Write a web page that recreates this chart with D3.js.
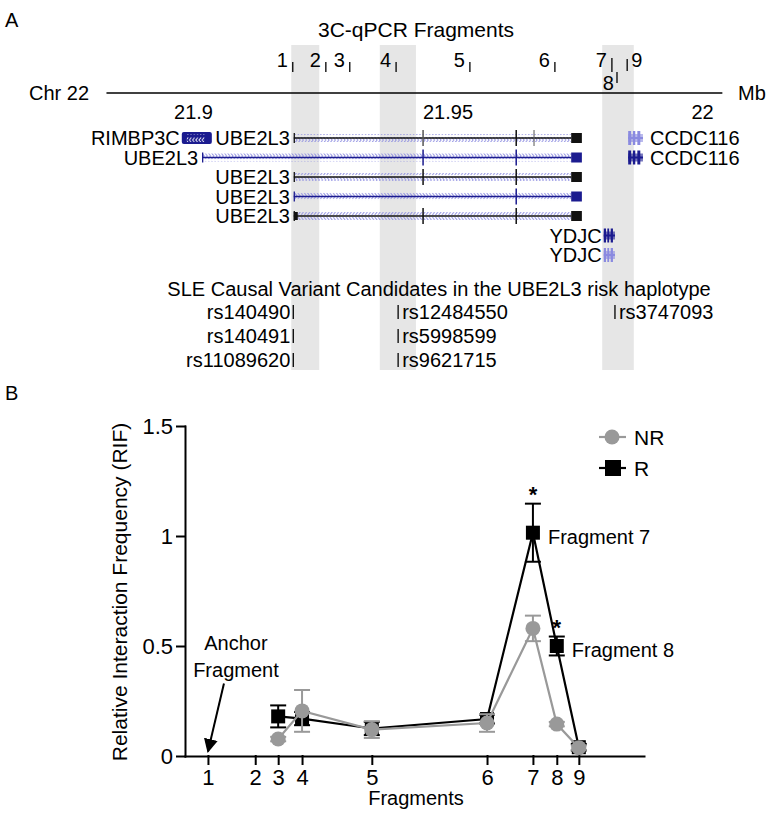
<!DOCTYPE html>
<html><head><meta charset="utf-8">
<script src="https://cdn.jsdelivr.net/npm/d3@7"></script>
<style>body{margin:0;background:#fff} svg{display:block;font-family:"Liberation Sans",Arial,Helvetica,sans-serif}</style>
</head><body><svg id="c" width="768" height="819"></svg>
<script>
// ---------- Panel A data ----------
const chrTicks=[21.9,21.95,22];
const chrTickLabels=["21.9","21.95","22"];
const chrExtent=[21.883,22.004];
const fragLabels=["1","2","3","4","5","6","7","8","9"];
const fragMb=[21.9196,21.9261,21.9308,21.9399,21.9544,21.9711,21.9823,21.9833,21.9853];
const bandStart=[21.9193,21.9367,21.9804];
const bandEnd=[21.9248,21.9438,21.9866];
const txNames=["UBE2L3","UBE2L3","UBE2L3","UBE2L3","UBE2L3"];
const txStart=[21.9198,21.9018,21.9198,21.9198,21.9198];
const txEnd=[21.9764,21.9764,21.9764,21.9764,21.9764];
const txUtrStart=[21.9743,21.9743,21.9743,21.9743,21.9743];
const txTone=["k","b","k","b","k"];
const txExons=[[21.9452,21.9635,21.9670],[21.9452,21.9635],[21.9452,21.9635],[21.9635],[21.9452,21.9635]];
const otherGenes=["RIMBP3C","CCDC116","CCDC116","YDJC","YDJC"];
const otherStart=[21.8978,21.9855,21.9855,21.9807,21.9807];
const otherEnd=[21.9037,21.9884,21.9884,21.9829,21.9829];
const otherRow=[0,0,1,5,6];
const otherTone=["b","l","b","b","l"];
const snpIds=["rs140490","rs140491","rs11089620","rs12484550","rs5998599","rs9621715","rs3747093"];
const snpMb=[21.9197,21.9197,21.9197,21.9403,21.9403,21.9403,21.9829];
const snpRow=[0,1,2,0,1,2,0];
// ---------- Panel B data ----------
const fragPos=[5,15.3,20.3,25.5,40.7,65.8,75.8,81.0,85.8];
const dataFrag=["3","4","5","6","7","8","9"];
const nrMean=[0.077,0.205,0.12,0.15,0.58,0.145,0.038];
const nrErr=[0.01,0.095,0.038,0.04,0.058,0.01,0.01];
const rMean=[0.18,0.17,0.125,0.168,1.015,0.50,0.04];
const rErr=[0.05,0.03,0.03,0.02,0.132,0.043,0.015];
const sigFrag=["7","8"];
const yTicks=[0,0.5,1,1.5];
const seriesNames=["NR","R"];

const svg=d3.select("#c");
const FONT='"Liberation Sans",Arial,Helvetica,sans-serif';
const NAVY="#1b1b8f", LAV="#8a8ae0", GRAY="#999999";

// ================= PANEL A =================
const xA=d3.scaleLinear().domain([21.9,22]).range([193,702]);
const rowY=d3.scaleLinear().domain([0,6]).range([138,255]);
const snpY=d3.scaleLinear().domain([0,2]).range([319,367]);

svg.append("text").attr("x",5).attr("y",27).attr("font-size",20).text("A");

// gray bands
svg.append("g").selectAll("rect").data(bandStart).join("rect")
  .attr("x",d=>xA(d)).attr("width",(d,i)=>xA(bandEnd[i])-xA(d))
  .attr("y",45).attr("height",325).attr("fill","#e6e6e6");

svg.append("text").attr("x",416).attr("y",37).attr("text-anchor","middle").attr("font-size",21).text("3C-qPCR Fragments");

// fragment ticks
const fg=svg.append("g");
fragMb.forEach((m,i)=>{
  const x=xA(m), lab=fragLabels[i];
  if(lab==="8"){
    fg.append("line").attr("x1",x).attr("x2",x).attr("y1",72).attr("y2",83).attr("stroke","#000").attr("stroke-width",1.3);
    fg.append("text").attr("x",x-3).attr("y",90).attr("text-anchor","end").attr("font-size",20).text(lab);
  } else if(lab==="9"){
    fg.append("line").attr("x1",x).attr("x2",x).attr("y1",59).attr("y2",71).attr("stroke","#000").attr("stroke-width",1.3);
    fg.append("text").attr("x",x+4).attr("y",67).attr("font-size",20).text(lab);
  } else {
    const top=lab==="7"?58:62;
    fg.append("line").attr("x1",x).attr("x2",x).attr("y1",top).attr("y2",72).attr("stroke","#000").attr("stroke-width",1.3);
    fg.append("text").attr("x",x-5).attr("y",67).attr("text-anchor","end").attr("font-size",20).text(lab);
  }
});

// chromosome line + axis labels
svg.append("line").attr("x1",xA(chrExtent[0])).attr("x2",xA(chrExtent[1])).attr("y1",93).attr("y2",93).attr("stroke","#000").attr("stroke-width",1.5);
svg.append("text").attr("x",89).attr("y",100).attr("text-anchor","end").attr("font-size",20).text("Chr 22");
svg.append("text").attr("x",738).attr("y",100).attr("font-size",20).text("Mb");
const ax=svg.append("g").attr("transform","translate(0,99)")
  .call(d3.axisBottom(xA).tickValues(chrTicks).tickFormat((d,i)=>chrTickLabels[i]).tickSize(0).tickPadding(2));
ax.select(".domain").remove();
ax.selectAll("text").attr("font-size",20).attr("font-family",FONT).attr("fill","#000").attr("dy","0.9em");

// chevron pattern
const defs=svg.append("defs");
defs.append("pattern").attr("id","chev").attr("patternUnits","userSpaceOnUse").attr("width",3.2).attr("height",8)
  .append("path").attr("d","M0.4,1 L2.6,4 L0.4,7").attr("fill","none").attr("stroke",LAV).attr("stroke-width",0.9);
defs.append("pattern").attr("id","chevL").attr("patternUnits","userSpaceOnUse").attr("width",3.2).attr("height",8)
  .append("path").attr("d","M2.6,1.5 L0.6,4 L2.6,6.5").attr("fill","none").attr("stroke","#fff").attr("stroke-width",0.9);

// transcripts
const tg=svg.append("g");
txNames.forEach((nm,i)=>{
  const y=rowY(i), col=txTone[i]==="b"?NAVY:"#111";
  const x0=xA(txStart[i]), xu=xA(txUtrStart[i]), x1=xA(txEnd[i]);
  tg.append("rect").attr("x",x0).attr("y",y-4).attr("width",xu-x0).attr("height",8).attr("fill","url(#chev)");
  tg.append("line").attr("x1",x0).attr("x2",xu).attr("y1",y).attr("y2",y).attr("stroke",col).attr("stroke-width",1.3);
  tg.append("line").attr("x1",x0+0.5).attr("x2",x0+0.5).attr("y1",y-5).attr("y2",y+5).attr("stroke",col).attr("stroke-width",1.3);
  if(i===4) tg.append("rect").attr("x",x0).attr("y",y-4).attr("width",4).attr("height",8).attr("fill","#111");
  txExons[i].forEach((e,k)=>{
    tg.append("line").attr("x1",xA(e)).attr("x2",xA(e)).attr("y1",y-8).attr("y2",y+8)
      .attr("stroke",(i===0&&k!==1)?"#555":col).attr("stroke-width",(i===0&&k===2)?1:1.5);
  });
  tg.append("rect").attr("x",xu).attr("y",y-5).attr("width",x1-xu).attr("height",10).attr("fill",col);
  tg.append("text").attr("x",x0-4).attr("y",y+7).attr("text-anchor","end").attr("font-size",20).text(nm);
});

// other genes
otherGenes.forEach((nm,i)=>{
  const y=rowY(otherRow[i]);
  const col=otherTone[i]==="b"?NAVY:LAV;
  const x0=xA(otherStart[i]), x1=xA(otherEnd[i]);
  if(nm==="RIMBP3C"){
    tg.append("rect").attr("x",x0).attr("y",y-6).attr("width",x1-x0).attr("height",12).attr("rx",2).attr("fill",col);
    tg.append("rect").attr("x",x0+5).attr("y",y-4).attr("width",x1-x0-12).attr("height",8).attr("fill","url(#chevL)");
    tg.append("text").attr("x",x0-2).attr("y",y+7).attr("text-anchor","end").attr("font-size",20).text(nm);
  } else {
    tg.append("line").attr("x1",x0).attr("x2",x1).attr("y1",y).attr("y2",y).attr("stroke",col).attr("stroke-width",2);
    const w=x1-x0;
    [0,0.32,0.62].forEach(f=>{
      tg.append("rect").attr("x",x0+f*w).attr("y",y-7).attr("width",f===0.32?w*0.16:w*0.2).attr("height",14).attr("fill",col);
    });
    tg.append("rect").attr("x",x0).attr("y",y-4).attr("width",w).attr("height",8).attr("fill",col).attr("opacity",0.6);
    if(nm==="CCDC116") tg.append("text").attr("x",x1+7).attr("y",y+7).attr("font-size",20).text(nm);
    else tg.append("text").attr("x",x0-2).attr("y",y+7).attr("text-anchor","end").attr("font-size",20).text(nm);
  }
});

// SNPs
svg.append("text").attr("x",439).attr("y",296).attr("text-anchor","middle").attr("font-size",20)
  .text("SLE Causal Variant Candidates in the UBE2L3 risk haplotype");
snpIds.forEach((id,i)=>{
  const x=xA(snpMb[i]), yb=snpY(snpRow[i]);
  svg.append("line").attr("x1",x).attr("x2",x).attr("y1",yb-14).attr("y2",yb).attr("stroke","#000").attr("stroke-width",1.3);
  const left=snpMb[i]<21.93;
  svg.append("text").attr("x",left?x-3:x+4).attr("y",yb).attr("text-anchor",left?"end":"start").attr("font-size",20).text(id);
});

// ================= PANEL B =================
svg.append("text").attr("x",5).attr("y",400).attr("font-size",20).text("B");
const xB=d3.scaleLinear().domain([0,100]).range([185,644]);
const yB=d3.scaleLinear().domain([0,1.5]).range([756,426]);
const posOf=f=>fragPos[fragLabels.indexOf(f)];

const gy=svg.append("g").attr("transform","translate(185,0)")
  .call(d3.axisLeft(yB).tickValues(yTicks).tickFormat(d=>String(d)).tickSize(8).tickSizeOuter(0).tickPadding(4));
const gx=svg.append("g").attr("transform","translate(0,756)")
  .call(d3.axisBottom(xB).tickValues(fragPos).tickFormat((d,i)=>fragLabels[i]).tickSize(8).tickSizeOuter(0).tickPadding(5));
[gx,gy].forEach(g=>{
  g.attr("font-family",FONT).attr("font-size",22);
  g.selectAll("path,line").attr("stroke","#000").attr("stroke-width",2).attr("stroke-linecap","square");
  g.selectAll("text").attr("fill","#000");
});
svg.append("text").attr("x",416).attr("y",805).attr("text-anchor","middle").attr("font-size",20).text("Fragments");
svg.append("text").attr("transform","translate(127,592) rotate(-90)").attr("text-anchor","middle").attr("font-size",21)
  .text("Relative Interaction Frequency (RIF)");

// anchor annotation
const ax1=xB(posOf("1"));
defs.append("marker").attr("id","arr").attr("viewBox","0 0 10 10").attr("refX",9).attr("refY",5)
  .attr("markerWidth",7).attr("markerHeight",7).attr("orient","auto")
  .append("path").attr("d","M0,0 L10,5 L0,10 z").attr("fill","#000");
svg.append("line").attr("x1",ax1+16).attr("y1",yB(0.33)).attr("x2",ax1).attr("y2",yB(0.02))
  .attr("stroke","#000").attr("stroke-width",2).attr("marker-end","url(#arr)");
svg.append("text").attr("x",ax1+28).attr("y",yB(0.48)).attr("text-anchor","middle").attr("font-size",20).text("Anchor");
svg.append("text").attr("x",ax1+28).attr("y",yB(0.36)).attr("text-anchor","middle").attr("font-size",20).text("Fragment");

function drawSeries(mean,err,color,shape){
  const g=svg.append("g");
  const pts=dataFrag.map((f,i)=>[xB(posOf(f)),yB(mean[i])]);
  g.append("path").attr("d",d3.line()(pts)).attr("fill","none").attr("stroke",color).attr("stroke-width",2.2);
  dataFrag.forEach((f,i)=>{
    const x=xB(posOf(f)), y1=yB(mean[i]+err[i]), y2=yB(mean[i]-err[i]);
    g.append("line").attr("x1",x).attr("x2",x).attr("y1",y1).attr("y2",y2).attr("stroke",color).attr("stroke-width",2);
    [y1,y2].forEach(yy=>g.append("line").attr("x1",x-8).attr("x2",x+8).attr("y1",yy).attr("y2",yy).attr("stroke",color).attr("stroke-width",2));
  });
  pts.forEach(p=>{
    if(shape==="sq") g.append("rect").attr("x",p[0]-7).attr("y",p[1]-7).attr("width",14).attr("height",14).attr("fill",color);
    else g.append("circle").attr("cx",p[0]).attr("cy",p[1]).attr("r",7.5).attr("fill",color);
  });
}
drawSeries(rMean,rErr,"#000","sq");
drawSeries(nrMean,nrErr,GRAY,"ci");

// significance + labels
sigFrag.forEach(f=>{
  const i=dataFrag.indexOf(f), x=xB(posOf(f));
  svg.append("text").attr("x",x).attr("y",yB(rMean[i]+rErr[i])-2).attr("text-anchor","middle")
    .attr("font-size",22).attr("font-weight","bold").text("*");
  svg.append("text").attr("x",x+15).attr("y",yB(rMean[i])+11).attr("font-size",20).text("Fragment "+f);
});

// legend
const lg=svg.append("g");
seriesNames.forEach((nm,i)=>{
  const y=437+i*31, col=nm==="NR"?GRAY:"#000";
  lg.append("line").attr("x1",599).attr("x2",626).attr("y1",y).attr("y2",y).attr("stroke",col).attr("stroke-width",2.2);
  if(nm==="NR") lg.append("circle").attr("cx",612).attr("cy",y).attr("r",7.5).attr("fill",col);
  else lg.append("rect").attr("x",605).attr("y",y-8).attr("width",16).attr("height",16).attr("fill",col);
  lg.append("text").attr("x",634).attr("y",y+8).attr("font-size",21).text(nm);
});
</script></body></html>
